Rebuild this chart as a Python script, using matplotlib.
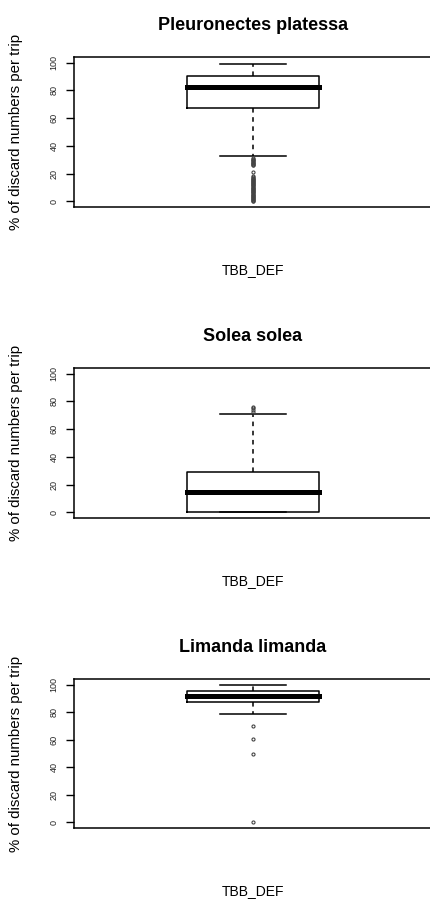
#
# discard boxplots per species, TBB_DEF metier
#

import matplotlib
matplotlib.use("Agg")
import matplotlib.pyplot as plt

plt.rcParams['font.family'] = ['Liberation Sans', 'DejaVu Sans']

species = ["Pleuronectes platessa", "Solea solea", "Limanda limanda"]
metier = "TBB_DEF"
y_label = "% of discard numbers per trip"
y_ticks = [0, 20, 40, 60, 80, 100]

# box summaries, % discard numbers per trip
whisk_lo = [33.0, 0.0, 78.4]
q1 = [67.0, 0.0, 87.5]
median = [82.2, 15.0, 92.0]
q3 = [90.4, 28.8, 95.4]
whisk_hi = [99.3, 71.2, 99.5]

# trips falling outside the whiskers
fliers_platessa = [0, 0.5, 1, 1.5, 2, 2.5, 3, 3.5, 4, 4.5, 5, 5.5, 6, 6.5, 7, 7.5,
                   8, 8.5, 9, 9.5, 10, 10.5, 11, 11.5, 12, 12.5, 13, 13.5, 14,
                   14.5, 15, 15.5, 16, 16.5, 17, 17.5, 18, 21.5,
                   26, 26.5, 27, 27.5, 28, 28.5, 29, 29.5, 30, 30.5, 31]
fliers_solea = [72.5, 74.0, 75.2, 76.2]
fliers_limanda = [0.0, 49.4, 60.3, 70.2]
fliers = [fliers_platessa, fliers_solea, fliers_limanda]

fig = plt.figure(figsize=(4.3, 8.99), dpi=100)

# panel frames in figure pixels: top, bottom
frames = [(57, 207), (368, 518), (679, 828)]
W, H = 430.0, 899.0
left, right = 74.0, 432.0

for i, name in enumerate(species):
    top, bot = frames[i]
    ax = fig.add_axes([left / W, 1 - bot / H, (right - left) / W, (bot - top) / H])

    stats = [dict(med=median[i], q1=q1[i], q3=q3[i],
                  whislo=whisk_lo[i], whishi=whisk_hi[i], fliers=fliers[i])]
    ax.bxp(stats, positions=[1], widths=0.37, showfliers=True,
           boxprops=dict(color="black", linewidth=1.1),
           medianprops=dict(color="black", linewidth=3.6, solid_capstyle="projecting"),
           whiskerprops=dict(color="black", linewidth=1.1, linestyle=(0, (3, 3))),
           capprops=dict(color="black", linewidth=1.1),
           capwidths=0.185,
           flierprops=dict(marker="o", markersize=2.2, markerfacecolor="none",
                           markeredgecolor="#444444", markeredgewidth=0.8))

    ax.set_xlim(0.5, 1.5)
    ax.set_ylim(-4, 104)
    ax.set_xticks([])
    ax.set_yticks(y_ticks)
    ax.set_yticklabels([str(t) for t in y_ticks])
    ax.tick_params(axis="y", labelsize=6.5, length=6, width=1, pad=5,
                   labelrotation=90, colors="black", labelcolor="#222222")
    for lab in ax.get_yticklabels():
        lab.set_va("center")
    for sp in ax.spines.values():
        sp.set_linewidth(1.1)

    ax.annotate(name, xy=(0.5, 1), xycoords="axes fraction",
                xytext=(0, 23), textcoords="offset points",
                ha="center", va="center", fontsize=13, fontweight="bold")
    ax.annotate(metier, xy=(0.5, 0), xycoords="axes fraction",
                xytext=(0, -45.5), textcoords="offset points",
                ha="center", va="center", fontsize=10)
    ax.text(-58 / (right - left), 0.5, y_label, transform=ax.transAxes,
            rotation=90, ha="center", va="center", fontsize=10.8)

plt.savefig("out.png", dpi=100)
